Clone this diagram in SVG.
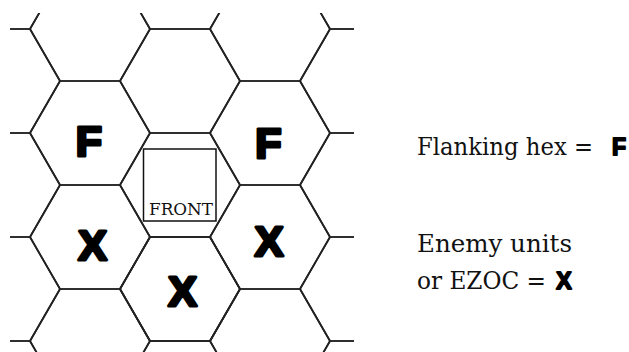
<svg xmlns="http://www.w3.org/2000/svg" xmlns:xlink="http://www.w3.org/1999/xlink" width="629" height="352" viewBox="0 0 629 352">
<style>
.hex{fill:none;stroke:#222;stroke-width:1.7;stroke-linejoin:round}
.big{font-family:"Liberation Sans",Arial,sans-serif;font-weight:bold;font-size:43px;fill:#000;stroke:#000;stroke-width:3.2;stroke-linejoin:round;text-anchor:middle}
.leg{font-family:"DejaVu Serif","Liberation Serif",serif;font-size:23.5px;fill:#111}
.legb{font-family:"Liberation Sans",Arial,sans-serif;font-weight:bold;font-size:23px;fill:#000;stroke:#000;stroke-width:1.8;stroke-linejoin:round;text-anchor:middle}
.front{font-family:"DejaVu Serif","Liberation Serif",serif;font-size:16px;fill:#111}
</style>
<defs>
<polygon id="h" points="-30,-52 30,-52 60,0 30,52 -30,52 -60,0"/>
<clipPath id="c"><rect x="10" y="13" width="344" height="339"/></clipPath>
</defs>
<rect width="629" height="352" fill="#fff"/>
<g id="grid" clip-path="url(#c)" class="hex">
<use xlink:href="#h" x="0" y="-23"/><use xlink:href="#h" x="0" y="81"/><use xlink:href="#h" x="0" y="185"/><use xlink:href="#h" x="0" y="289"/><use xlink:href="#h" x="0" y="393"/>
<use xlink:href="#h" x="90" y="29"/><use xlink:href="#h" x="90" y="341"/>
<use xlink:href="#h" x="180" y="-23"/><use xlink:href="#h" x="180" y="81"/><use xlink:href="#h" x="180" y="289"/><use xlink:href="#h" x="180" y="393"/>
<use xlink:href="#h" x="270" y="29"/><use xlink:href="#h" x="270" y="341"/>
<use xlink:href="#h" x="360" y="-23"/><use xlink:href="#h" x="360" y="81"/><use xlink:href="#h" x="360" y="185"/><use xlink:href="#h" x="360" y="289"/><use xlink:href="#h" x="360" y="393"/>
</g>
<g id="hex-flank-left"><use xlink:href="#h" x="90" y="133" class="hex"/><text class="big" x="89" y="155.5">F</text></g>
<g id="hex-flank-right"><use xlink:href="#h" x="270" y="133" class="hex"/><text class="big" x="268.5" y="157.5">F</text></g>
<g id="hex-front"><use xlink:href="#h" x="180" y="185" class="hex"/><rect x="143.5" y="149" width="72.5" height="72" fill="#fff" stroke="#111" stroke-width="1.5"/><text class="front" x="149" y="215" textLength="64" lengthAdjust="spacingAndGlyphs">FRONT</text></g>
<g id="hex-enemy-left"><use xlink:href="#h" x="90" y="237" class="hex"/><text class="big" x="92.5" y="259.5">X</text></g>
<g id="hex-enemy-bottom"><use xlink:href="#h" x="180" y="289" class="hex"/><text class="big" x="182.5" y="305.5">X</text></g>
<g id="hex-enemy-right"><use xlink:href="#h" x="270" y="237" class="hex"/><text class="big" x="269" y="255.5">X</text></g>
<g id="legend">
<text class="leg" x="417" y="155" textLength="176" lengthAdjust="spacingAndGlyphs">Flanking hex =</text>
<text class="legb" x="619" y="154.5">F</text>
<text class="leg" x="417" y="252" textLength="155" lengthAdjust="spacingAndGlyphs">Enemy units</text>
<text class="leg" x="417" y="289" textLength="129" lengthAdjust="spacingAndGlyphs">or EZOC =</text>
<text class="legb" x="564" y="288.5">X</text>
</g>
</svg>
